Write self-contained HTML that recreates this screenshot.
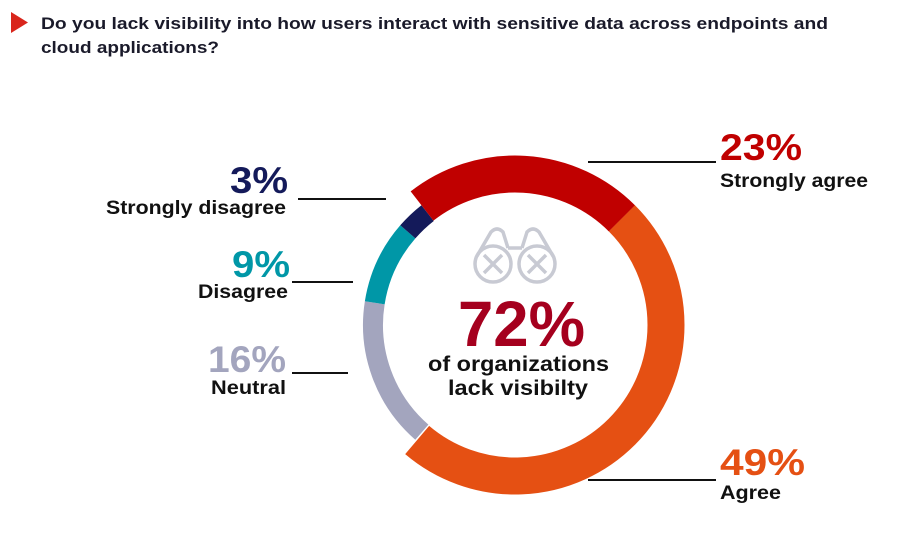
<!DOCTYPE html>
<html><head><meta charset="utf-8"><style>
body{margin:0;width:901px;height:538px;background:#fff;overflow:hidden;font-family:"Liberation Sans",sans-serif;}
</style></head><body>
<svg width="901" height="538" xmlns="http://www.w3.org/2000/svg" style="position:absolute;left:0;top:0">
<polygon points="11,12 28,22.5 11,33" fill="#d9261c"/>
<text x="41" y="29" font-size="17" font-weight="bold" fill="#1a1a2a" textLength="787" lengthAdjust="spacingAndGlyphs">Do you lack visibility into how users interact with sensitive data across endpoints and</text>
<text x="41" y="53" font-size="17" font-weight="bold" fill="#1a1a2a" textLength="178" lengthAdjust="spacingAndGlyphs">cloud applications?</text>
<g fill="none">
<circle cx="515" cy="325" r="142" stroke="#a3a5be" stroke-width="20" stroke-dasharray="143.7 2000" transform="rotate(131 515 325)"/>
<circle cx="515" cy="325" r="142" stroke="#0097a7" stroke-width="20" stroke-dasharray="79.3 2000" transform="rotate(189 515 325)"/>
<circle cx="515" cy="325" r="142" stroke="#141a5a" stroke-width="20" stroke-dasharray="27.3 2000" transform="rotate(221 515 325)"/>
<circle cx="515" cy="325" r="151" stroke="#e55013" stroke-width="37" stroke-dasharray="462 2000" transform="rotate(-45 515 325)"/>
<circle cx="515" cy="325" r="151" stroke="#c00000" stroke-width="37" stroke-dasharray="218.7 2000" transform="rotate(-128 515 325)"/>
</g>
<g stroke="#c8cad3" stroke-width="3.5" fill="none">
<circle cx="493" cy="264" r="18"/><circle cx="537" cy="264" r="18"/>
<path d="M477 256 L491 232 Q497 226 503 232 L508 248 M553 256 L539 232 Q533 226 527 232 L522 248 M508 248 L522 248"/>
<path d="M484 255 L502 273 M502 255 L484 273 M528 255 L546 273 M546 255 L528 273"/>
</g>
<text x="458" y="346" font-size="64" font-weight="bold" fill="#a5001e" textLength="127" lengthAdjust="spacingAndGlyphs">72%</text>
<text x="428" y="371" font-size="21" font-weight="bold" fill="#111" textLength="181" lengthAdjust="spacingAndGlyphs">of organizations</text>
<text x="448" y="395" font-size="21" font-weight="bold" fill="#111" textLength="140" lengthAdjust="spacingAndGlyphs">lack visibilty</text>
<g stroke="#111" stroke-width="2">
<line x1="588" y1="162" x2="716" y2="162"/>
<line x1="588" y1="480" x2="716" y2="480"/>
<line x1="298" y1="199" x2="386" y2="199"/>
<line x1="292" y1="282" x2="353" y2="282"/>
<line x1="292" y1="373" x2="348" y2="373"/>
</g>
<g font-weight="bold" lengthAdjust="spacingAndGlyphs">
<text x="720" y="160" font-size="37" fill="#c00000" textLength="82" lengthAdjust="spacingAndGlyphs">23%</text>
<text x="720" y="187" font-size="19" fill="#111" textLength="148" lengthAdjust="spacingAndGlyphs">Strongly agree</text>
<text x="720" y="475" font-size="37" fill="#e55013" textLength="85" lengthAdjust="spacingAndGlyphs">49%</text>
<text x="720" y="499" font-size="19" fill="#111" textLength="61" lengthAdjust="spacingAndGlyphs">Agree</text>
<text x="230" y="193" font-size="37" fill="#141a5a" textLength="58" lengthAdjust="spacingAndGlyphs">3%</text>
<text x="106" y="214" font-size="19" fill="#111" textLength="180" lengthAdjust="spacingAndGlyphs">Strongly disagree</text>
<text x="232" y="277" font-size="37" fill="#0097a7" textLength="58" lengthAdjust="spacingAndGlyphs">9%</text>
<text x="198" y="298" font-size="19" fill="#111" textLength="90" lengthAdjust="spacingAndGlyphs">Disagree</text>
<text x="208" y="372" font-size="37" fill="#a3a5be" textLength="78" lengthAdjust="spacingAndGlyphs">16%</text>
<text x="211" y="394" font-size="19" fill="#111" textLength="75" lengthAdjust="spacingAndGlyphs">Neutral</text>
</g>
</svg>
</body></html>
